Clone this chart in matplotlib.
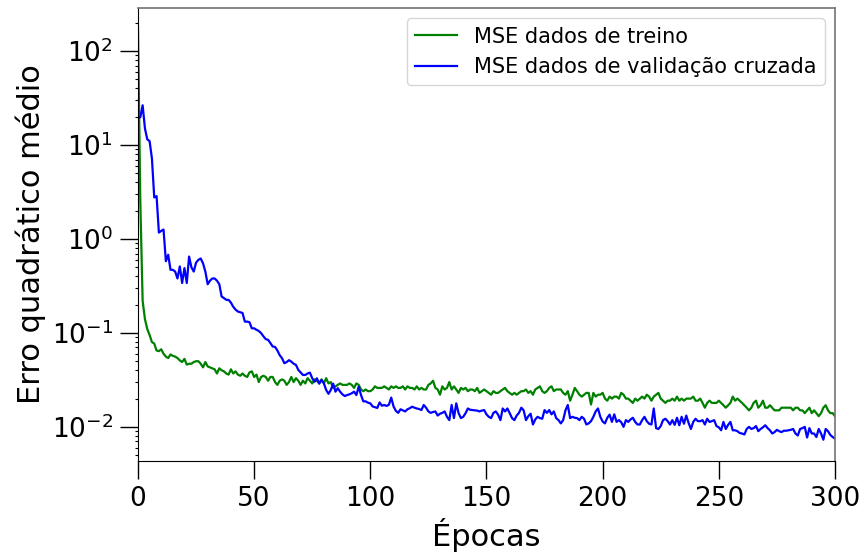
import numpy as np
import matplotlib.pyplot as plt

# MSE por época
mse_treino = [
    180, 2.5, 0.22, 0.14, 0.11, 0.095, 0.08, 0.077, 0.065, 0.064,
    0.067, 0.06, 0.056, 0.054, 0.059, 0.057, 0.056, 0.054, 0.051, 0.049,
    0.053, 0.046, 0.047, 0.047, 0.049, 0.050, 0.050, 0.047, 0.043, 0.049,
    0.044, 0.043, 0.042, 0.041, 0.037, 0.042, 0.040, 0.039, 0.037, 0.036,
    0.041, 0.037, 0.039, 0.036, 0.035, 0.037, 0.035, 0.034, 0.038, 0.039,
    0.034, 0.036, 0.030, 0.034, 0.035, 0.034, 0.031, 0.034, 0.034, 0.030,
    0.028, 0.031, 0.032, 0.031, 0.028, 0.030, 0.034, 0.030, 0.033, 0.031,
    0.028, 0.031, 0.029, 0.033, 0.031, 0.029, 0.032, 0.031, 0.029, 0.032,
    0.029, 0.033, 0.029, 0.030, 0.026, 0.027, 0.028, 0.029, 0.028, 0.028,
    0.028, 0.029, 0.028, 0.026, 0.029, 0.028, 0.025, 0.024, 0.025, 0.024,
    0.024, 0.025, 0.027, 0.026, 0.026, 0.026, 0.027, 0.026, 0.025, 0.027,
    0.026, 0.027, 0.026, 0.026, 0.027, 0.025, 0.027, 0.026, 0.026, 0.025,
    0.027, 0.025, 0.026, 0.025, 0.025, 0.028, 0.029, 0.031, 0.026, 0.025,
    0.022, 0.027, 0.025, 0.026, 0.030, 0.025, 0.027, 0.025, 0.023, 0.026,
    0.025, 0.026, 0.024, 0.025, 0.025, 0.024, 0.026, 0.023, 0.024, 0.025,
    0.024, 0.023, 0.022, 0.024, 0.023, 0.023, 0.024, 0.025, 0.026, 0.024,
    0.023, 0.022, 0.023, 0.022, 0.023, 0.024, 0.024, 0.025, 0.023, 0.024,
    0.022, 0.025, 0.026, 0.027, 0.024, 0.023, 0.024, 0.026, 0.027, 0.024,
    0.025, 0.025, 0.025, 0.023, 0.022, 0.024, 0.019, 0.022, 0.026, 0.024,
    0.022, 0.021, 0.022, 0.023, 0.023, 0.0173, 0.023, 0.021, 0.022, 0.022,
    0.023, 0.020, 0.019, 0.021, 0.020, 0.021, 0.021, 0.020, 0.023, 0.022,
    0.020, 0.020, 0.019, 0.018, 0.020, 0.019, 0.020, 0.021, 0.020, 0.022,
    0.021, 0.019, 0.021, 0.022, 0.023, 0.020, 0.019, 0.018, 0.019, 0.019,
    0.020, 0.019, 0.021, 0.019, 0.020, 0.019, 0.020, 0.020, 0.020, 0.021,
    0.019, 0.019, 0.020, 0.018, 0.016, 0.018, 0.019, 0.018, 0.018, 0.018,
    0.019, 0.018, 0.017, 0.016, 0.017, 0.018, 0.021, 0.019, 0.020, 0.019,
    0.018, 0.017, 0.016, 0.015, 0.016, 0.018, 0.019, 0.016, 0.017, 0.019,
    0.016, 0.016, 0.017, 0.016, 0.015, 0.015, 0.015, 0.016, 0.016, 0.016,
    0.016, 0.016, 0.015, 0.016, 0.016, 0.015, 0.015, 0.014, 0.015, 0.016,
    0.014, 0.015, 0.014, 0.013, 0.014, 0.016, 0.017, 0.015, 0.014, 0.014,
    0.013,
]

mse_validacao = [
    19.5, 19.8, 26.5, 15, 11.5, 11, 7.2, 2.77, 2.86, 1.17,
    1.22, 1.26, 0.58, 0.68, 0.47, 0.47, 0.45, 0.38, 0.51, 0.34,
    0.49, 0.34, 0.65, 0.50, 0.45, 0.56, 0.60, 0.62, 0.55, 0.45,
    0.33, 0.36, 0.38, 0.38, 0.36, 0.33, 0.244, 0.235, 0.225, 0.225,
    0.21, 0.19, 0.177, 0.169, 0.166, 0.163, 0.132, 0.132, 0.13, 0.112,
    0.112, 0.108, 0.105, 0.0995, 0.092, 0.0859, 0.0844, 0.078, 0.0716, 0.071,
    0.065, 0.058, 0.0538, 0.0476, 0.049, 0.0513, 0.0495, 0.047, 0.0457, 0.0404,
    0.038, 0.0357, 0.0357, 0.037, 0.0378, 0.0329, 0.0302, 0.0329, 0.0289, 0.0316,
    0.0291, 0.0247, 0.0225, 0.0247, 0.0289, 0.0237, 0.0258, 0.0237, 0.0222, 0.0213,
    0.0218, 0.0222, 0.0228, 0.0237, 0.0218, 0.0268, 0.0218, 0.0187, 0.0187, 0.0181,
    0.0178, 0.0165, 0.0162, 0.0159, 0.0182, 0.0168, 0.0171, 0.0167, 0.0172, 0.0205,
    0.0165, 0.0148, 0.0141, 0.0154, 0.0150, 0.0146, 0.0154, 0.0158, 0.0164, 0.0160,
    0.0157, 0.0155, 0.0151, 0.0171, 0.0160, 0.0146, 0.0141, 0.0144, 0.0146, 0.0132,
    0.0138, 0.0141, 0.0146, 0.0128, 0.0118, 0.0171, 0.0124, 0.0178, 0.0140, 0.0124,
    0.0128, 0.0140, 0.0157, 0.0152, 0.0151, 0.0150, 0.0149, 0.0146, 0.0149, 0.0151,
    0.0136, 0.0128, 0.0124, 0.0141, 0.0146, 0.0135, 0.0118, 0.0157, 0.0146, 0.0157,
    0.0140, 0.0124, 0.0118, 0.0132, 0.0141, 0.0160, 0.0150, 0.0118, 0.0130, 0.0138,
    0.0106, 0.0120, 0.0128, 0.0124, 0.0122, 0.0151, 0.0141, 0.0151, 0.0136, 0.0146,
    0.0124, 0.0118, 0.0109, 0.0118, 0.0150, 0.0171, 0.0124, 0.0128, 0.0125, 0.0124,
    0.0118, 0.0128, 0.0122, 0.0106, 0.0109, 0.0115, 0.0128, 0.0146, 0.0157, 0.0128,
    0.0114, 0.0109, 0.0125, 0.0135, 0.0113, 0.0136, 0.0113, 0.0118, 0.0112, 0.0100,
    0.0118, 0.0113, 0.0120, 0.0125, 0.0113, 0.0106, 0.0106, 0.0118, 0.0128, 0.0115,
    0.0108, 0.0106, 0.0157, 0.0097, 0.0095, 0.0102, 0.0118, 0.0122, 0.0115, 0.0106,
    0.0118, 0.0105, 0.0125, 0.0104, 0.0128, 0.0108, 0.0132, 0.0110, 0.0095, 0.0113,
    0.0122, 0.0115, 0.0115, 0.0118, 0.0106, 0.0122, 0.0113, 0.0115, 0.0118, 0.0102,
    0.0099, 0.0092, 0.0113, 0.0095, 0.0105, 0.0113, 0.0092, 0.0092, 0.0090, 0.0086,
    0.0085, 0.0083, 0.0095, 0.0100, 0.0095, 0.0097, 0.0102, 0.0090, 0.0095, 0.0099,
    0.0104, 0.0097, 0.0092, 0.0085, 0.0088, 0.0093, 0.0090, 0.0088, 0.0091, 0.0091,
    0.0092, 0.0093, 0.0095, 0.0085, 0.0081, 0.0095, 0.0097, 0.0100, 0.0077, 0.0097,
    0.0085, 0.0085, 0.0078, 0.0095, 0.0085, 0.0073, 0.0095, 0.0090, 0.0082, 0.0078,
    0.0075,
]

epocas = np.arange(len(mse_treino))

fig = plt.figure(figsize=(8.64, 5.54), dpi=100)
ax = fig.add_axes([0.1597, 0.1679, 0.8067, 0.8177])

ax.plot(epocas, mse_treino, color="green", lw=1.6, label="MSE dados de treino")
ax.plot(epocas, mse_validacao, color="blue", lw=1.6, label="MSE dados de validação cruzada")

ax.set_yscale("log")
ax.set_xlim(0, 300)
ax.set_ylim(10 ** -2.363, 10 ** 2.459)
ax.set_xticks([0, 50, 100, 150, 200, 250, 300])

ax.set_xlabel("Épocas", fontsize=22)
ax.set_ylabel("Erro quadrático médio", fontsize=22)
ax.tick_params(which="major", labelsize=19, length=13, width=1, pad=5)
ax.tick_params(which="minor", length=2.5, width=0.8)

for s in ["left", "bottom"]:
    ax.spines[s].set_color("black")
for s in ["top", "right"]:
    ax.spines[s].set_color("0.45")
    ax.spines[s].set_linewidth(1.2)

ax.legend(loc="upper right", fontsize=15, borderaxespad=0.5)

fig.savefig("out.png", dpi=100)
